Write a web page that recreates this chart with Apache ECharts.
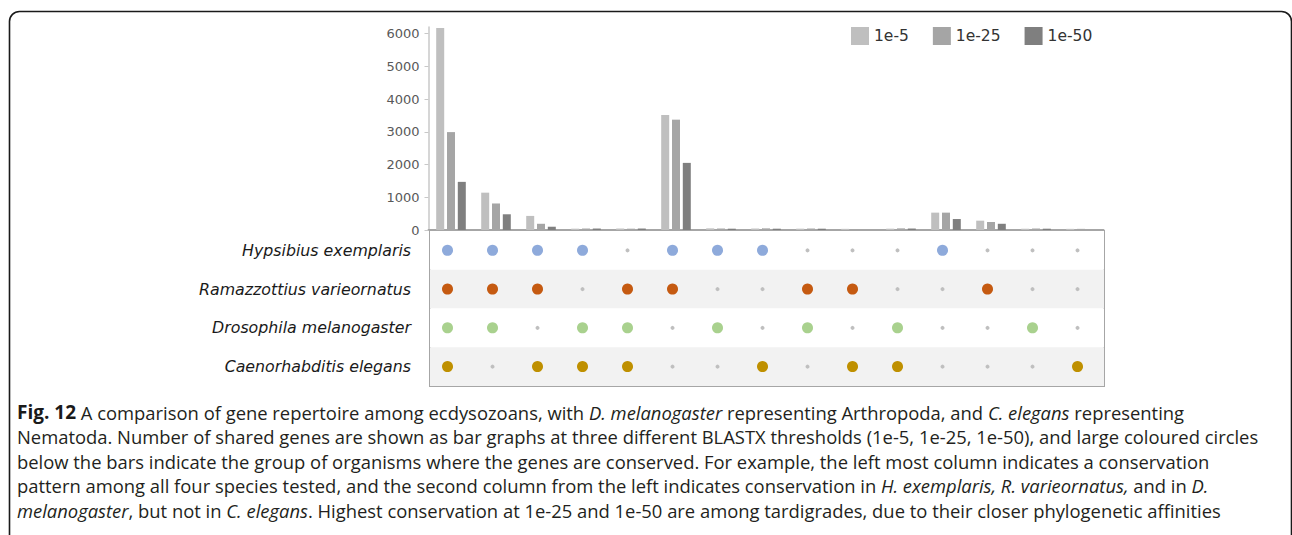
<!DOCTYPE html>
<html>
<head>
<meta charset="utf-8">
<script src="https://cdn.jsdelivr.net/npm/echarts@6/dist/echarts.min.js"></script>
<style>
html,body{margin:0;padding:0;background:#fff;}
#chart{width:1292px;height:535px;}
</style>
</head>
<body>
<div id="chart"></div>
<script>
// ---- data ----
const columns = ['C1','C2','C3','C4','C5','C6','C7','C8','C9','C10','C11','C12','C13','C14','C15'];
const thresholds = ['1e-5','1e-25','1e-50'];
const shared1e5  = [6170,1140,430,40,45,3510,50,45,40,35,40,530,285,40,35];
const shared1e25 = [2990,810,190,45,40,3370,45,50,45,0,50,530,245,45,35];
const shared1e50 = [1470,480,100,45,45,2050,40,40,40,0,45,335,190,40,0];
const yTickValues = [0,1000,2000,3000,4000,5000,6000];
const species = ['Hypsibius exemplaris','Ramazzottius varieornatus','Drosophila melanogaster','Caenorhabditis elegans'];
const hypsibius     = [1,1,1,1,0,1,1,1,0,0,0,1,0,0,0];
const ramazzottius  = [1,1,1,0,1,1,0,0,1,1,0,0,1,0,0];
const drosophila    = [1,1,0,1,1,0,1,0,1,0,1,0,0,1,0];
const caenorhabditis= [1,0,1,1,1,0,0,1,0,1,1,0,0,0,1];
const captionLines = [
  '{b|Fig. 12} A comparison of gene repertoire among ecdysozoans, with {i|D. melanogaster} representing Arthropoda, and {i|C. elegans} representing',
  'Nematoda. Number of shared genes are shown as bar graphs at three different BLASTX thresholds (1e-5, 1e-25, 1e-50), and large coloured circles',
  'below the bars indicate the group of organisms where the genes are conserved. For example, the left most column indicates a conservation',
  'pattern among all four species tested, and the second column from the left indicates conservation in {i|H. exemplaris, R. varieornatus,} and in {i|D.}',
  '{i|melanogaster}, but not in {i|C. elegans}. Highest conservation at 1e-25 and 1e-50 are among tardigrades, due to their closer phylogenetic affinities'
];

// ---- styles ----
const barColors = ['#bfbfbf','#a5a5a5','#7f7f7f'];
const speciesColors = ['#8eaadb','#c55a11','#a9d18e','#bf9000'];
const memberships = [hypsibius, ramazzottius, drosophila, caenorhabditis];
const barValues = [shared1e5, shared1e25, shared1e50];

const chart = echarts.init(document.getElementById('chart'), null, {renderer:'svg'});

const barSeries = thresholds.map((t, k) => ({
  name: t, type: 'bar', xAxisIndex: 0, yAxisIndex: 0,
  data: barValues[k], barWidth: 8, barGap: '35%',
  itemStyle: {color: barColors[k]}, silent: true
}));

const dotSeries = species.map((sp, s) => ({
  name: sp, type: 'scatter', xAxisIndex: 1, yAxisIndex: 1, silent: true, z: 5,
  itemStyle: {opacity: 1},
  data: memberships[s].map((m, i) => ({
    value: [columns[i], sp],
    symbolSize: m ? 11 : 4,
    itemStyle: {color: m ? speciesColors[s] : '#bfbfbf', opacity: 1}
  }))
}));

const captionGraphics = captionLines.map((line, i) => ({
  type: 'text', x: 17, y: 412 + i * 24.5,
  style: {
    text: line,
    font: '18.4px "Open Sans"',
    fill: '#231f20',
    verticalAlign: 'middle',
    rich: {
      b: {fontWeight: 'bold', fontSize: 19, fontFamily: 'Open Sans', fill: '#1a1a1a'},
      i: {fontStyle: 'italic', fontSize: 18.4, fontFamily: 'Open Sans', fill: '#231f20'}
    }
  }
}));

chart.setOption({
  animation: false,
  textStyle: {fontFamily: 'DejaVu Sans'},
  legend: {
    data: thresholds, left: 851, top: 27, padding: 0, itemWidth: 18, itemHeight: 18, itemGap: 24,
    icon: 'rect', textStyle: {fontSize: 15.5, color: '#333333', fontFamily: 'DejaVu Sans'}
  },
  grid: [
    {left: 428.5, top: 27, width: 675, height: 203},
    {left: 425, top: 231, width: 675, height: 155},
    {left: 430, top: 231, width: 674, height: 155, show: true, borderColor: '#a6a6a6', borderWidth: 2, backgroundColor: 'transparent'}
  ],
  xAxis: [
    {type: 'category', gridIndex: 0, data: columns,
     axisLine: {show: true, lineStyle: {color: '#a6a6a6', width: 2}},
     axisTick: {show: false}, axisLabel: {show: false}},
    {type: 'category', gridIndex: 1, data: columns, show: false},
    {type: 'value', gridIndex: 2, show: false}
  ],
  yAxis: [
    {type: 'value', gridIndex: 0, min: 0, max: 6200,
     axisLine: {show: true, lineStyle: {color: '#c8c8c8', width: 1.5}},
     axisTick: {show: true, length: 4, lineStyle: {color: '#c8c8c8'}, customValues: yTickValues},
     axisLabel: {fontSize: 13, color: '#595959', margin: 9, customValues: yTickValues,
                 fontFamily: 'DejaVu Sans', formatter: v => String(v)},
     splitLine: {show: false}},
    {type: 'category', gridIndex: 1, data: species, inverse: true,
     axisLine: {show: false}, axisTick: {show: false},
     axisLabel: {fontSize: 15.8, fontStyle: 'italic', color: '#1a1a1a', margin: 14, fontFamily: 'DejaVu Sans'}},
    {type: 'category', gridIndex: 2, data: species, inverse: true,
     axisLine: {show: false}, axisTick: {show: false}, axisLabel: {show: false},
     splitLine: {show: false},
     splitArea: {show: true, areaStyle: {color: ['#ffffff', '#f2f2f2']}}}
  ],
  series: barSeries.concat(dotSeries),
  graphic: [
    {type: 'rect', shape: {x: 9.5, y: 11.5, width: 1282, height: 600, r: 10},
     style: {fill: 'none', stroke: '#1a1a1a', lineWidth: 1.6}, silent: true}
  ].concat(captionGraphics)
});
</script>
</body>
</html>
